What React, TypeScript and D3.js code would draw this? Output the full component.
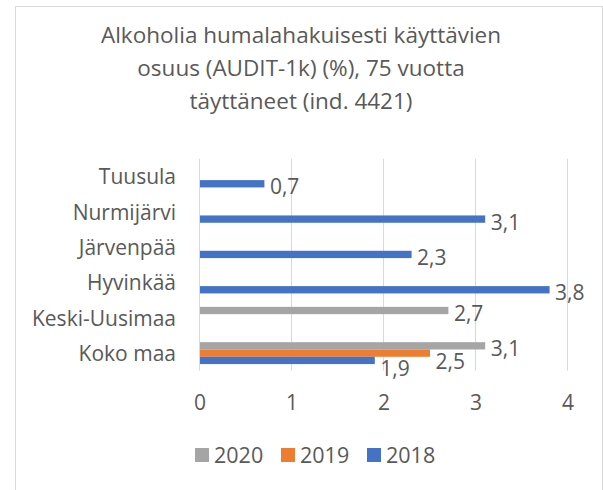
import React from "react";
import * as d3 from "d3";

const categories = ["Koko maa", "Keski-Uusimaa", "Hyvinkää", "Järvenpää", "Nurmijärvi", "Tuusula"];
const seriesNames = ["2020", "2019", "2018"];
const values2020: (number | null)[] = [3.1, 2.7, null, null, null, null];
const values2019: (number | null)[] = [2.5, null, null, null, null, null];
const values2018: (number | null)[] = [1.9, null, 3.8, 2.3, 3.1, 0.7];
const xTicks = [0, 1, 2, 3, 4];
const titleLines = [
  "Alkoholia humalahakuisesti käyttävien",
  "osuus (AUDIT-1k) (%), 75 vuotta",
  "täyttäneet (ind. 4421)",
];
const colors: Record<string, string> = { "2020": "#A5A5A5", "2019": "#ED7D31", "2018": "#4472C4" };

const W = 603;
const H = 490;
const FONT = "'Open Sans', sans-serif";
const TEXT = "#595959";
const PLOT_TOP = 158.8;
const PLOT_BOTTOM = 370.8;

export default function App() {
  const seriesValues: Record<string, (number | null)[]> = {
    "2020": values2020,
    "2019": values2019,
    "2018": values2018,
  };
  const x = d3.scaleLinear().domain([0, 4]).range([200, 568]);
  const y = d3
    .scaleBand<string>()
    .domain([...categories].reverse())
    .range([PLOT_TOP, PLOT_BOTTOM])
    .paddingInner(0)
    .paddingOuter(0);
  const bw = y.bandwidth();
  const groupH = bw * 0.62;
  const inner = d3
    .scaleBand<string>()
    .domain(seriesNames)
    .range([(bw - groupH) / 2, (bw + groupH) / 2]);

  const labelNudge = (cat: string, s: string) => {
    if (cat === "Koko maa" && s === "2019") return 8;
    if (cat === "Koko maa" && s === "2018") return 8;
    return 2.5;
  };

  const bars: React.ReactNode[] = [];
  const labels: React.ReactNode[] = [];
  seriesNames.forEach((s) => {
    seriesValues[s].forEach((v, i) => {
      if (v == null) return;
      const cat = categories[i];
      const y0 = (y(cat) as number) + (inner(s) as number);
      const h = inner.bandwidth();
      bars.push(
        <rect key={`b-${s}-${i}`} x={x(0)} y={y0} width={x(v) - x(0)} height={h} fill={colors[s]} />
      );
      labels.push(
        <text
          key={`l-${s}-${i}`}
          x={x(v) + 5.5}
          y={y0 + h / 2 + labelNudge(cat, s)}
          dominantBaseline="central"
          fontSize={21}
          fill={TEXT}
          fontFamily={FONT}
        >
          {String(v).replace(".", ",")}
        </text>
      );
    });
  });

  const legendX = [195, 281, 367];

  return (
    <svg
      width={W}
      height={H}
      style={{ position: "absolute", left: 0, top: 0, background: "#fff" }}
      fontFamily={FONT}
    >
      <rect x={0} y={0} width={W} height={H} fill="#fff" />
      <path d={`M15.5,${H + 2} V6.5 H602.5 V${H + 2}`} fill="none" stroke="#D9D9D9" strokeWidth={1} />
      {titleLines.map((t, i) => (
        <text key={t} x={301} y={43 + i * 33} textAnchor="middle" fontSize={22.5} fill={TEXT}>
          {t}
        </text>
      ))}
      {xTicks.map((t) => (
        <line
          key={`g${t}`}
          x1={Math.round(x(t)) - 0.5}
          x2={Math.round(x(t)) - 0.5}
          y1={PLOT_TOP}
          y2={PLOT_BOTTOM}
          stroke="#D9D9D9"
          strokeWidth={1}
        />
      ))}
      {bars}
      {labels}
      {categories.map((c) => (
        <text
          key={c}
          x={176}
          y={(y(c) as number) + bw / 2}
          dominantBaseline="central"
          textAnchor="end"
          fontSize={21}
          fill={TEXT}
        >
          {c}
        </text>
      ))}
      {xTicks.map((t) => (
        <text key={`t${t}`} x={x(t)} y={410} textAnchor="middle" fontSize={21} fill={TEXT}>
          {t}
        </text>
      ))}
      {seriesNames.map((s, i) => (
        <g key={`lg${s}`}>
          <rect x={legendX[i]} y={448} width={14} height={14} fill={colors[s]} />
          <text x={legendX[i] + 19} y={462.5} fontSize={21.5} fill={TEXT}>
            {s}
          </text>
        </g>
      ))}
    </svg>
  );
}
